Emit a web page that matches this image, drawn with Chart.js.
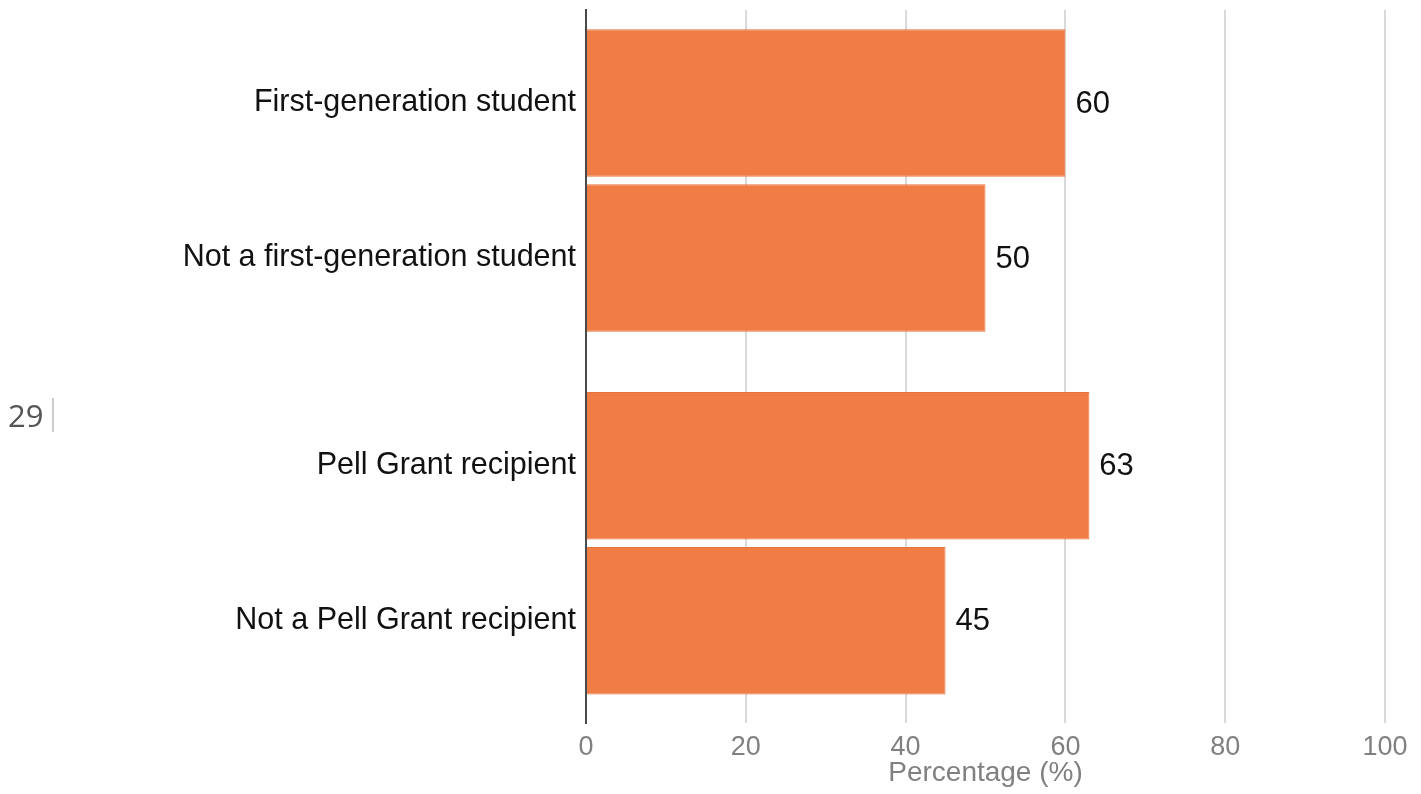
<!DOCTYPE html>
<html>
<head>
<meta charset="utf-8">
<script src="https://cdn.jsdelivr.net/npm/chart.js@4"></script>
<style>
    html, body { margin: 0; padding: 0; background: #fff; }
    #wrap { position: relative; width: 1421px; height: 794px; }
    #pageNum {
        position: absolute; left: 8px; top: 398px;
        font-family: "Open Sans", sans-serif; font-size: 31px; color: #555;
        padding-right: 9px; border-right: 2px solid #cccccc; line-height: 34px;
    }
</style>
</head>
<body>
<div id="wrap">
    <canvas id="barChart" width="1421" height="794"></canvas>
    <div id="pageNum">29</div>
</div>
<script>
// data
const categories = [
    "First-generation student",
    "Not a first-generation student",
    "Pell Grant recipient",
    "Not a Pell Grant recipient"
];
const groupOf = [0, 0, 1, 1];           // two comparison groups, gap between them
const percentages = [60, 50, 63, 45];
const xTicks = [0, 20, 40, 60, 80, 100];

const groupGap = 0.34;                   // extra space between the groups (in row units)
const rowPos = categories.map((c, i) => i + groupOf[i] * groupGap);

const barColor = "#f07d45";
const labelFont = "'Liberation Sans', Arial, sans-serif";

// value labels at the end of each bar
const valueLabels = {
    id: "valueLabels",
    afterDatasetsDraw(chart) {
        const ctx = chart.ctx;
        const meta = chart.getDatasetMeta(0);
        ctx.save();
        ctx.font = "31px " + labelFont;
        ctx.fillStyle = "#111";
        ctx.textAlign = "left";
        ctx.textBaseline = "middle";
        meta.data.forEach((bar, i) => {
            ctx.fillText(String(percentages[i]), bar.x + 10, bar.y + 1);
        });
        ctx.restore();
    }
};

new Chart(document.getElementById("barChart"), {
    type: "bar",
    data: {
        datasets: [{
            data: percentages.map((v, i) => ({ x: v, y: rowPos[i] })),
            backgroundColor: barColor,
            borderColor: "#e8743d",
            borderWidth: 1,
            categoryPercentage: 1,
            barPercentage: 0.952
        }]
    },
    options: {
        indexAxis: "y",
        responsive: false,
        animation: false,
        layout: { padding: { top: 10, right: 36, bottom: 0, left: 0 } },
        plugins: { legend: { display: false }, tooltip: { enabled: false } },
        scales: {
            x: {
                type: "linear",
                min: 0, max: 100,
                afterBuildTicks: (scale) => { scale.ticks = xTicks.map(v => ({ value: v })); },
                afterFit: (scale) => { scale.height = 71; },
                grid: {
                    color: (c) => c.tick && c.tick.value === 0 ? "rgba(0,0,0,0)" : "#d9d9d9",
                    lineWidth: 2,
                    drawTicks: false
                },
                border: { display: false },
                ticks: {
                    padding: 8,
                    color: "#808080",
                    font: { family: labelFont, size: 27 }
                },
                title: {
                    display: true,
                    text: "Percentage (%)",
                    color: "#808080",
                    font: { family: labelFont, size: 28 },
                    padding: { top: 0, bottom: 4 }
                }
            },
            y: {
                type: "linear",
                reverse: true,
                offset: false,
                min: -0.6, max: 4.0,
                afterBuildTicks: (scale) => { scale.ticks = rowPos.map(v => ({ value: v })); },
                afterFit: (scale) => {
                    scale.width = 586;
                    scale.paddingTop = 0;
                    scale.paddingBottom = 0;
                },
                grid: { display: false, drawTicks: false },
                border: { display: true, color: "#4a4a4a", width: 2 },
                ticks: {
                    padding: 10,
                    color: "#111",
                    font: { family: labelFont, size: 30.5 },
                    callback: (value) => {
                        const i = rowPos.findIndex(p => Math.abs(p - value) < 1e-6);
                        return i >= 0 ? categories[i] : "";
                    }
                }
            }
        }
    },
    plugins: [valueLabels]
});
</script>
</body>
</html>
